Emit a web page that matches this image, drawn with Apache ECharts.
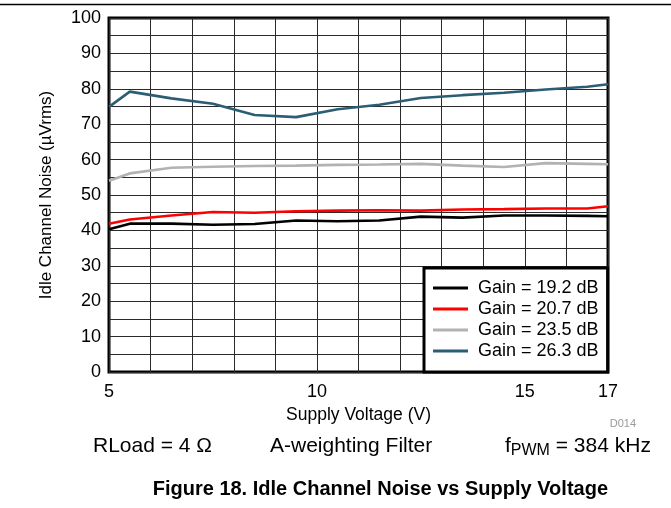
<!DOCTYPE html>
<html>
<head>
<meta charset="utf-8">
<script src="https://cdn.jsdelivr.net/npm/echarts@6/dist/echarts.min.js"></script>
<style>
html,body{margin:0;padding:0;background:#fff;}
#c{width:671px;height:508px;}
</style>
</head>
<body>
<div id="c"></div>
<script>
// ---- data ----
const voltage = [5, 5.5, 6.5, 7.5, 8.5, 9.5, 10.5, 11.5, 12.5, 13.5, 14.5, 15.5, 16.5, 17];
const gain192 = [40.3, 41.9, 41.9, 41.6, 41.8, 42.8, 42.6, 42.8, 43.9, 43.6, 44.2, 44.2, 44.1, 44.0];
const gain207 = [41.9, 43.1, 44.2, 45.2, 45.0, 45.4, 45.6, 45.7, 45.6, 45.9, 46.0, 46.2, 46.2, 46.8];
const gain235 = [54.0, 56.1, 57.7, 58.0, 58.2, 58.3, 58.5, 58.6, 58.8, 58.3, 57.9, 59.0, 58.8, 58.7];
const gain263 = [74.9, 79.2, 77.3, 75.8, 72.6, 72.0, 74.2, 75.5, 77.4, 78.2, 78.9, 79.8, 80.6, 81.3];
const seriesNames = ['Gain = 19.2 dB', 'Gain = 20.7 dB', 'Gain = 23.5 dB', 'Gain = 26.3 dB'];
const xTickLabels = [5, 10, 15, 17];
const yTickLabels = [0, 10, 20, 30, 40, 50, 60, 70, 80, 90, 100];

const FONT = "'Liberation Sans', Arial, sans-serif";
const colors = ['#000000', '#ff0000', '#b2b2b2', '#2b5d75'];
const allSeries = [gain192, gain207, gain235, gain263];

const chart = echarts.init(document.getElementById('c'), null, {renderer: 'canvas'});
chart.setOption({
  animation: false,
  backgroundColor: '#fff',
  textStyle: {fontFamily: FONT},
  grid: {
    left: 109, right: 63, top: 18, bottom: 136,
    show: true, borderColor: '#000', borderWidth: 3, backgroundColor: 'transparent'
  },
  xAxis: {
    type: 'value', min: 5, max: 17, interval: 1,
    name: 'Supply Voltage (V)', nameLocation: 'middle', nameGap: 31,
    nameTextStyle: {fontSize: 17.5, color: '#000', fontFamily: FONT},
    axisLine: {show: false}, axisTick: {show: false},
    axisLabel: {
      fontSize: 18, color: '#000', margin: 11, fontFamily: FONT,
      formatter: v => xTickLabels.indexOf(v) >= 0 ? String(v) : ''
    },
    splitLine: {show: true, lineStyle: {color: '#2a2a2a', width: 1}}
  },
  yAxis: {
    type: 'value', min: 0, max: 100, interval: 5,
    name: 'Idle Channel Noise (\u00B5Vrms)', nameLocation: 'middle', nameGap: 54,
    nameTextStyle: {fontSize: 17, color: '#000', fontFamily: FONT},
    axisLine: {show: false}, axisTick: {show: false},
    axisLabel: {
      fontSize: 18, color: '#000', margin: 8, fontFamily: FONT,
      formatter: v => yTickLabels.indexOf(v) >= 0 ? String(v) : ''
    },
    splitLine: {show: true, lineStyle: {color: '#2a2a2a', width: 1}}
  },
  legend: {
    orient: 'vertical', left: 424, top: 268,
    padding: [10, 9, 11, 9], itemGap: 1,
    backgroundColor: '#fff', borderColor: '#000', borderWidth: 3,
    icon: 'rect', itemWidth: 35, itemHeight: 3,
    textStyle: {fontSize: 18, color: '#000', fontFamily: FONT, lineHeight: 20, padding: [0, 0, 0, 5]},
    data: seriesNames
  },
  series: allSeries.map((arr, i) => ({
    name: seriesNames[i],
    type: 'line',
    showSymbol: false, symbol: 'none',
    color: colors[i],
    lineStyle: {color: colors[i], width: 2.6},
    z: 3 + i,
    data: voltage.map((v, j) => [v, arr[j]])
  })),
  graphic: [
    {type: 'line', shape: {x1: 0, y1: 4.5, x2: 671, y2: 4.5}, style: {stroke: '#000', lineWidth: 1.5}},
    {type: 'text', x: 636, y: 424, style: {text: 'D014', fontSize: 11, fill: '#999', align: 'right', verticalAlign: 'middle', fontFamily: FONT}},
    {type: 'text', x: 93, y: 446, style: {text: 'RLoad = 4 \u03A9', fontSize: 21, fill: '#000', align: 'left', verticalAlign: 'middle', fontFamily: FONT}},
    {type: 'text', x: 270, y: 446, style: {text: 'A-weighting Filter', fontSize: 21, fill: '#000', align: 'left', verticalAlign: 'middle', fontFamily: FONT}},
    {type: 'text', x: 505, y: 446, style: {
      text: '{a|f}{b|PWM}{a| = 384 kHz}', align: 'left', verticalAlign: 'middle',
      rich: {
        a: {fontSize: 21, fill: '#000', fontFamily: FONT},
        b: {fontSize: 16, fill: '#000', fontFamily: FONT, verticalAlign: 'bottom', padding: [9, 0, 0, 0]}
      }
    }},
    {type: 'text', x: 608, y: 489, style: {text: 'Figure 18. Idle Channel Noise vs Supply Voltage', fontSize: 20, fontWeight: 'bold', fill: '#000', align: 'right', verticalAlign: 'middle', fontFamily: FONT}}
  ]
});
</script>
</body>
</html>
